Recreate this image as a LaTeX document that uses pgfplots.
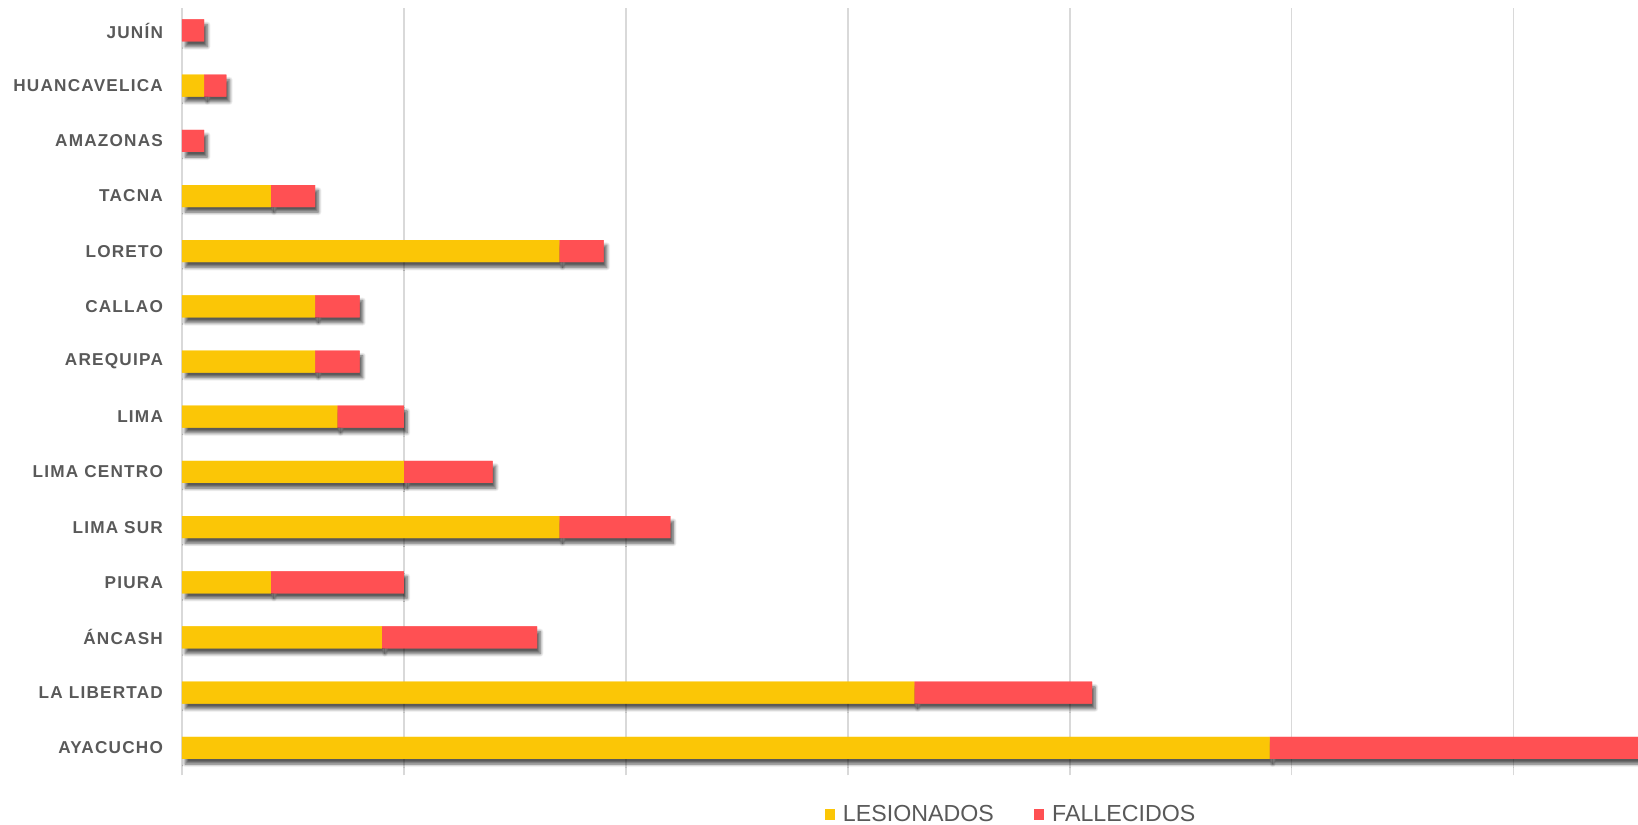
\documentclass[border=0pt]{standalone}
\usepackage{fontspec}
\setmainfont{Liberation Sans}
\usepackage{pgfplots}
\pgfplotsset{compat=1.18}
\usetikzlibrary{shadows.blur}
\definecolor{yel}{HTML}{FBC606}
\definecolor{red1}{HTML}{FF5053}
\definecolor{txt}{HTML}{595959}
\definecolor{grd}{HTML}{D9D9D9}
\pgfplotsset{
  base/.style={
    scale only axis, width=728pt, height=383.5pt,
    xbar stacked, bar width=11pt,
    xmin=0, xmax=65.6, ymin=-0.5, ymax=13.4,
    xtick={0,10,...,60}, xticklabels={},
    tick style={draw=none},
    axis line style={draw=none},
    ytick={0,...,13},
  },
  myshadow/.style={blur shadow={shadow xshift=1.6pt, shadow yshift=-2.6pt, shadow blur steps=7, shadow blur radius=1.6pt, shadow opacity=65, shadow blur extra rounding=0pt}},
}
\pgfplotstableread{
y les fal
0 49 17
1 33 8
2 9 7
3 4 6
4 17 5
5 10 4
6 7 3
7 6 2
8 6 2
9 17 2
10 4 2
11 0 1
12 1 1
13 0 1
}\datatable
\begin{document}
\begin{tikzpicture}
% shadow layer with grid
\begin{axis}[base,
  xmajorgrids, major grid style={draw=grd, line width=0.7pt},
  yticklabels={},
]
\addplot[draw=none, fill=yel, myshadow] table[x=les, y=y] {\datatable};
\addplot[draw=none, fill=red1, myshadow] table[x=fal, y=y] {\datatable};
\coordinate (bl) at (rel axis cs:0,0);
\coordinate (tr) at (rel axis cs:1,1);
\end{axis}
% bar layer with labels and legend
\begin{axis}[base,
  yticklabels={AYACUCHO,LA LIBERTAD,ÁNCASH,PIURA,LIMA SUR,LIMA CENTRO,LIMA,AREQUIPA,CALLAO,LORETO,TACNA,AMAZONAS,HUANCAVELICA,JUNÍN},
  yticklabel style={font=\fontsize{8.6}{10}\selectfont\bfseries\addfontfeature{LetterSpace=7}, text=txt, xshift=-6pt},
  legend style={at={(0.570,-0.051)}, anchor=center, legend columns=2, draw=none,
    font=\fontsize{11.6}{13}\selectfont, text=txt,
    /tikz/every even column/.append style={column sep=18pt}},
  legend image code/.code={\fill[#1] (0pt,-2.6pt) rectangle (5.2pt,2.6pt); \path (7.2pt,0pt);},
]
\addplot[draw=none, fill=yel] table[x=les, y=y] {\datatable};
\addplot[draw=none, fill=red1] table[x=fal, y=y] {\datatable};
\legend{LESIONADOS,FALLECIDOS}
\end{axis}
\pgfresetboundingbox
\path ([xshift=-91pt,yshift=-24.5pt]bl) rectangle ([yshift=4.2pt]tr);
\end{tikzpicture}
\end{document}
